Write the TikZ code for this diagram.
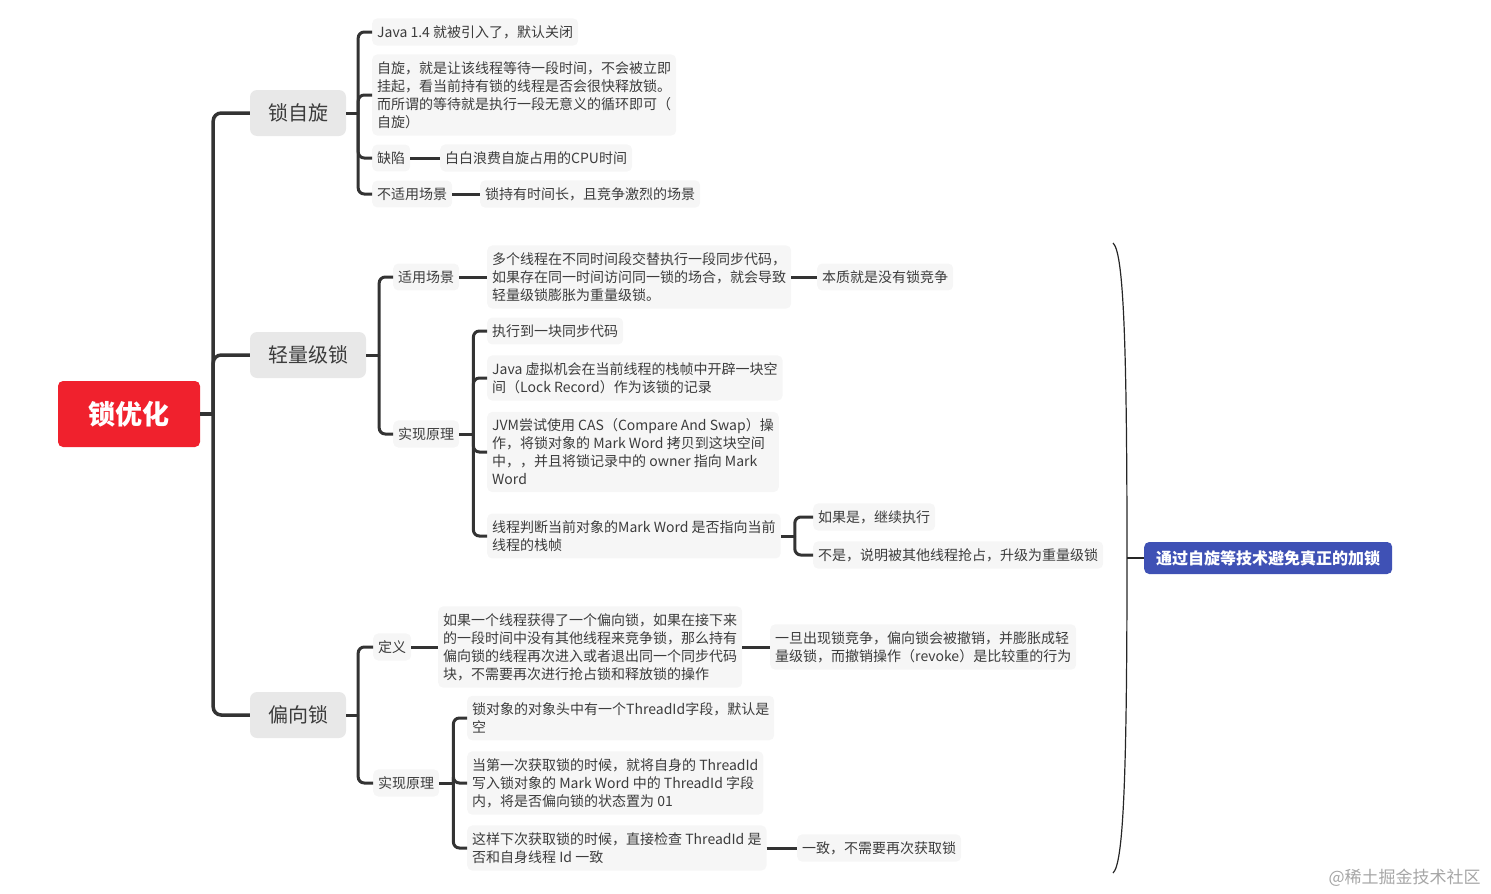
\documentclass[tikz,border=0pt]{standalone}
\usepackage{fontspec}
\setmainfont{Noto Sans CJK SC}
\definecolor{rootred}{HTML}{F0212D}
\definecolor{topicgray}{HTML}{E8E8E8}
\definecolor{leafgray}{HTML}{F6F6F6}
\definecolor{inkgray}{HTML}{3C3C3C}
\definecolor{linkgray}{HTML}{333333}
\definecolor{sumblue}{HTML}{3F51B5}
\tikzset{
  rootbox/.style={fill=rootred, text=white, rounded corners=5pt, minimum width=142pt,
    minimum height=66pt, font=\bfseries\fontsize{27}{30}\selectfont},
  topic/.style={fill=topicgray, text=inkgray, rounded corners=7pt, minimum height=46pt,
    inner xsep=18pt, font=\fontsize{20}{24}\selectfont},
  leaf/.style={fill=leafgray, text=inkgray, rounded corners=5pt, anchor=west, align=left,
    inner xsep=5pt, inner ysep=7pt, font=\fontsize{14}{18}\selectfont},
  sumbox/.style={fill=sumblue, text=white, rounded corners=5pt, anchor=west,
    minimum height=32pt, inner xsep=12pt, font=\bfseries\fontsize{16}{20}\selectfont},
  link/.style={draw=linkgray, line width=3pt, rounded corners=6pt},
  trunk/.style={link, line width=3.5pt, rounded corners=8pt},
  brace/.style={draw=black!85, line width=1.2pt},
}
\begin{document}
\begin{tikzpicture}[x=1pt,y=-1pt]
  \useasboundingbox (0,0) rectangle (1491,894);

  %draw root and main topics
  \node[rootbox] (root) at (129,414) {锁优化};
  \node[topic] (spin) at (298,113) {锁自旋};
  \node[topic] (light) at (308,355) {轻量级锁};
  \node[topic] (biased) at (298,715) {偏向锁};

  %draw lock spinning
  \node[leaf] (since) at (372,32) {Java 1.4 就被引入了，默认关闭};
  \node[leaf] (spindef) at (372,95) {自旋，就是让该线程等待一段时间，不会被立即\\挂起，看当前持有锁的线程是否会很快释放锁。\\而所谓的等待就是执行一段无意义的循环即可（\\自旋）};
  \node[leaf] (flaw) at (372,158) {缺陷};
  \node[leaf] (flawd) at (440,158) {白白浪费自旋占用的CPU时间};
  \node[leaf] (unfit) at (372,194) {不适用场景};
  \node[leaf] (unfitd) at (480,194) {锁持有时间长，且竞争激烈的场景};

  %draw lightweight lock
  \node[leaf] (lscene) at (393,277) {适用场景};
  \node[leaf] (lscened) at (487,277) {多个线程在不同时间段交替执行一段同步代码，\\如果存在同一时间访问同一锁的场合，就会导致\\轻量级锁膨胀为重量级锁。};
  \node[leaf] (lcore) at (817,277) {本质就是没有锁竞争};
  \node[leaf] (limpl) at (393,434) {实现原理};
  \node[leaf] (lstep1) at (487,331) {执行到一块同步代码};
  \node[leaf] (lstep2) at (487,378) {Java 虚拟机会在当前线程的栈帧中开辟一块空\\间（Lock Record）作为该锁的记录};
  \node[leaf] (lstep3) at (487,452) {JVM尝试使用 CAS（Compare And Swap）操\\作，将锁对象的 Mark Word 拷贝到这块空间\\中，，并且将锁记录中的 owner 指向 Mark\\Word};
  \node[leaf] (lstep4) at (487,536) {线程判断当前对象的Mark Word 是否指向当前\\线程的栈帧};
  \node[leaf] (lyes) at (813,517) {如果是，继续执行};
  \node[leaf] (lno) at (813,555) {不是，说明被其他线程抢占，升级为重量级锁};

  %draw biased lock
  \node[leaf] (bdef) at (373,647) {定义};
  \node[leaf] (bdefd) at (438,647) {如果一个线程获得了一个偏向锁，如果在接下来\\的一段时间中没有其他线程来竞争锁，那么持有\\偏向锁的线程再次进入或者退出同一个同步代码\\块，不需要再次进行抢占锁和释放锁的操作};
  \node[leaf] (brevoke) at (770,647) {一旦出现锁竞争，偏向锁会被撤销，并膨胀成轻\\量级锁，而撤销操作（revoke）是比较重的行为};
  \node[leaf] (bimpl) at (373,783) {实现原理};
  \node[leaf] (bstep1) at (467,718) {锁对象的对象头中有一个ThreadId字段，默认是\\空};
  \node[leaf] (bstep2) at (467,783) {当第一次获取锁的时候，就将自身的 ThreadId\\写入锁对象的 Mark Word 中的 ThreadId 字段\\内，将是否偏向锁的状态置为 01};
  \node[leaf] (bstep3) at (467,848) {这样下次获取锁的时候，直接检查 ThreadId 是\\否和自身线程 Id 一致};
  \node[leaf] (bsame) at (797,848) {一致，不需要再次获取锁};

  %draw summary
  \node[sumbox] (summary) at (1144,558) {通过自旋等技术避免真正的加锁};
  \node[anchor=west, text=black!35, font=\fontsize{17}{20}\selectfont] (mark) at (1325,878) {@稀土掘金技术社区};

  %draw branch points
  \coordinate (rootb) at ([xshift=13]root.east);
  \coordinate (spinb) at ([xshift=12]spin.east);
  \coordinate (lightb) at ([xshift=13]light.east);
  \coordinate (limplb) at ([xshift=14]limpl.east);
  \coordinate (lstep4b) at ([xshift=14]lstep4.east);
  \coordinate (biasedb) at ([xshift=12]biased.east);
  \coordinate (bimplb) at ([xshift=14]bimpl.east);

  %draw connectors
  \draw[trunk] (root.east) -- (rootb);
  \foreach \t in {spin,light,biased}
     \draw[trunk] (rootb) |- (\t.west);

  \draw[link] (spin.east) -- (spinb);
  \foreach \c in {since,spindef,flaw,unfit}
     \draw[link] (spinb) |- (\c.west);
  \draw[link] (flaw.east) -- (flawd.west);
  \draw[link] (unfit.east) -- (unfitd.west);

  \draw[link] (light.east) -- (lightb);
  \foreach \c in {lscene,limpl}
     \draw[link] (lightb) |- (\c.west);
  \draw[link] (lscene.east) -- (lscened.west);
  \draw[link] (lscened.east) -- (lcore.west);
  \draw[link] (limpl.east) -- (limplb);
  \foreach \c in {lstep1,lstep2,lstep3,lstep4}
     \draw[link] (limplb) |- (\c.west);
  \draw[link] (lstep4.east) -- (lstep4b);
  \foreach \c in {lyes,lno}
     \draw[link] (lstep4b) |- (\c.west);

  \draw[link] (biased.east) -- (biasedb);
  \foreach \c in {bdef,bimpl}
     \draw[link] (biasedb) |- (\c.west);
  \draw[link] (bdef.east) -- (bdefd.west);
  \draw[link] (bdefd.east) -- (brevoke.west);
  \draw[link] (bimpl.east) -- (bimplb);
  \foreach \c in {bstep1,bstep2,bstep3}
     \draw[link] (bimplb) |- (\c.west);
  \draw[link] (bstep3.east) -- (bsame.west);

  %draw summary brace
  \coordinate (bracetop) at (1113,243);
  \coordinate (bracebot) at (1113,873);
  \coordinate (bracemid) at (1127,558);
  \draw[brace] (bracetop) .. controls (1123,252) and (1127,330) .. (bracemid)
     .. controls (1127,786) and (1123,864) .. (bracebot);
  \draw[brace] (bracemid) -- (summary.west);
\end{tikzpicture}
\end{document}
